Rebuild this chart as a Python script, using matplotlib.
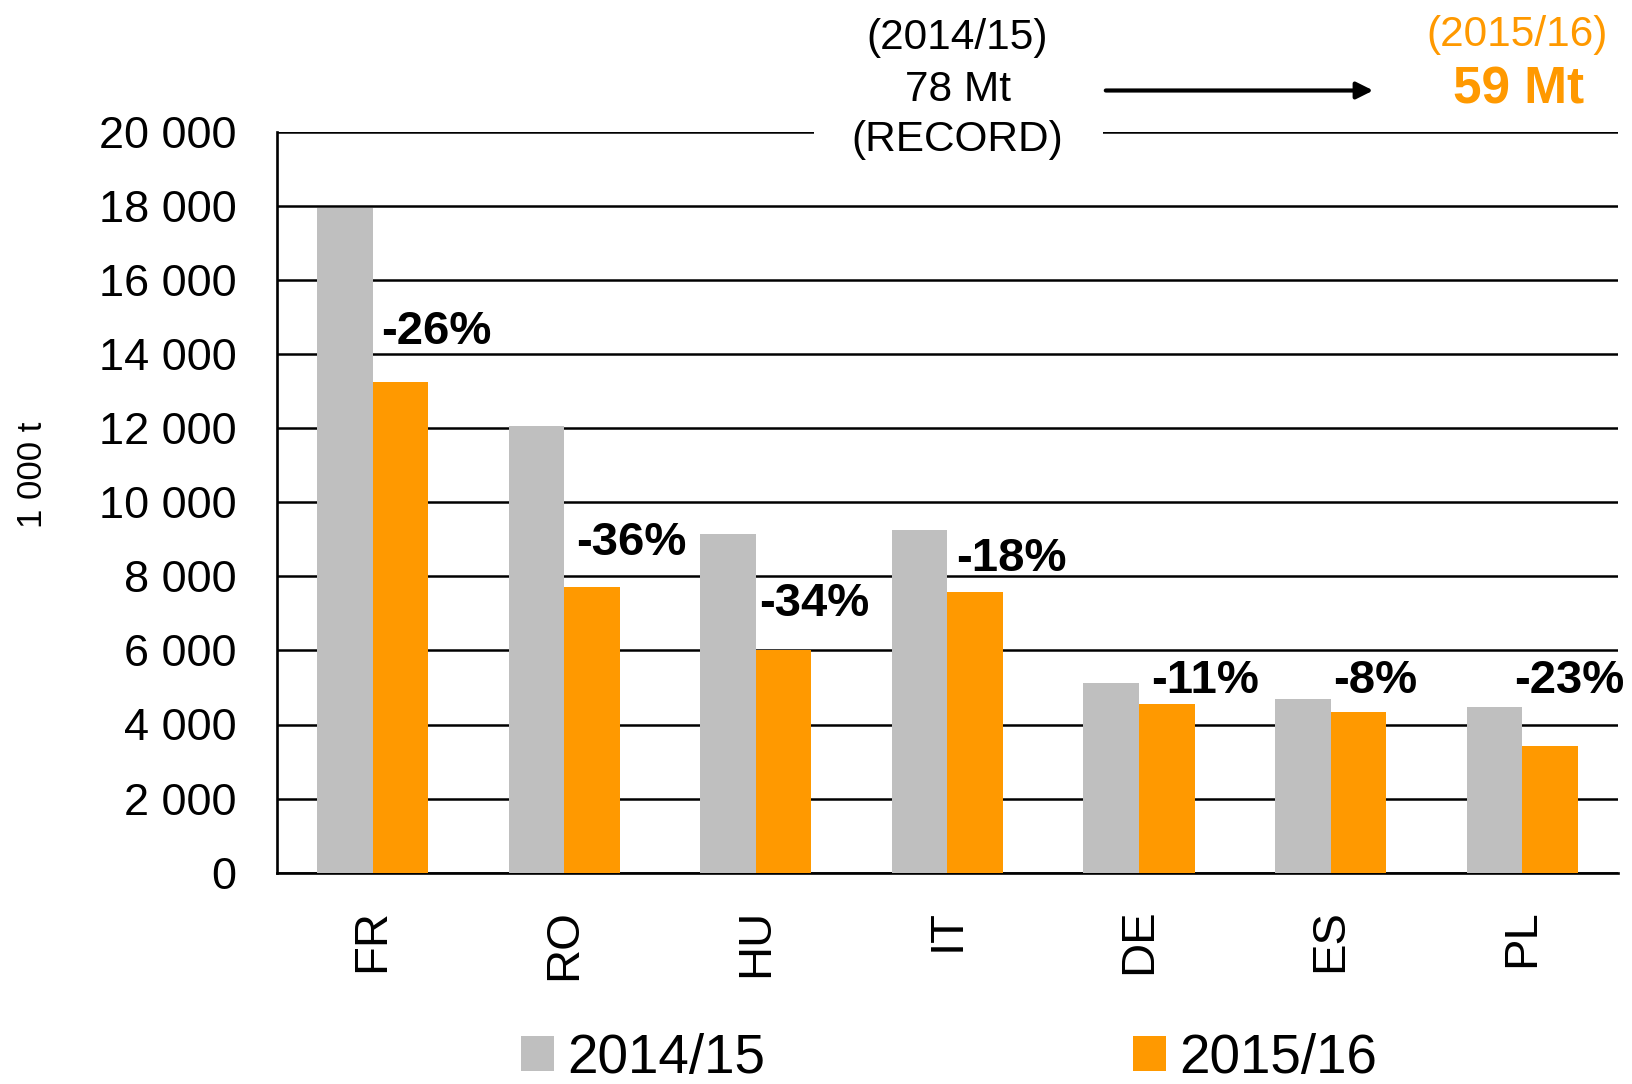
import matplotlib
matplotlib.use("Agg")
import matplotlib.pyplot as plt
from matplotlib.patches import Rectangle, FancyArrowPatch
import numpy as np

plt.rcParams['font.family'] = ['Liberation Sans', 'DejaVu Sans']

countries = ["FR", "RO", "HU", "IT", "DE", "ES", "PL"]
prod_2014_15 = [17950, 12050, 9150, 9250, 5120, 4700, 4470]
prod_2015_16 = [13250, 7700, 6000, 7570, 4560, 4330, 3430]
change_labels = ["-26%", "-36%", "-34%", "-18%", "-11%", "-8%", "-23%"]
series_names = ["2014/15", "2015/16"]
yticks = [0, 2000, 4000, 6000, 8000, 10000, 12000, 14000, 16000, 18000, 20000]
ytick_labels = ["0", "2 000", "4 000", "6 000", "8 000", "10 000", "12 000",
                "14 000", "16 000", "18 000", "20 000"]

# layout for the percentage annotations (x offset from category, y in data units)
label_dx = [0.045, 0.065, 0.02, 0.045, 0.065, 0.015, -0.04]
label_y = [14600, 8900, 7260, 8470, 5180, 5180, 5180]

GRAY = "#BFBFBF"
ORANGE = "#FF9900"

W, H = 1632, 1084
fig = plt.figure(figsize=(W / 100, H / 100), dpi=100)
ax = fig.add_axes([276.7 / W, 1 - 872.7 / H, (1618 - 276.7) / W, (872.7 - 131.7) / H])

x = np.arange(len(countries))
bw = 0.29
b1 = ax.bar(x - bw / 2, prod_2014_15, width=bw, color=GRAY, zorder=3, label=series_names[0])
b2 = ax.bar(x + bw / 2, prod_2015_16, width=bw, color=ORANGE, zorder=3, label=series_names[1])

ax.set_xlim(-0.5, len(countries) - 0.5)
ax.set_ylim(0, 20000)
ax.set_yticks(yticks)
ax.set_yticklabels(ytick_labels, fontsize=32.5)
ax.set_xticks(x)
ax.set_xticklabels(countries, rotation=90, fontsize=34, va="top")
ax.tick_params(axis="y", length=0, pad=29)
ax.tick_params(axis="x", length=0, pad=26)
ax.grid(axis="y", color="black", linewidth=1.8, zorder=0)
ax.set_axisbelow(True)
for s in ["top", "right"]:
    ax.spines[s].set_visible(False)
for s in ["left", "bottom"]:
    ax.spines[s].set_linewidth(1.9)
    ax.spines[s].set_color("black")

fig.text(33 / W, 1 - 475 / H, "1 000 t", fontsize=25, rotation=90, ha="center", va="center")

for i, lab in enumerate(change_labels):
    ax.text(x[i] + label_dx[i], label_y[i], lab, fontsize=34, fontweight="bold",
            ha="left", va="center", zorder=5)

# white gap in the top gridline behind the annotation
fig.patches.append(Rectangle((814 / W, 1 - 150 / H), (1103 - 814) / W, 30 / H,
                             transform=fig.transFigure, facecolor="white",
                             edgecolor="none", zorder=2))

dy = 4
fig.text(957.6 / W, 1 - (34.3 + dy) / H, "(2014/15)", fontsize=30.5, ha="center", va="center", zorder=4)
fig.text(957.6 / W, 1 - (86.4 + dy) / H, "78 Mt", fontsize=30.5, ha="center", va="center", zorder=4)
fig.text(957.6 / W, 1 - (136.3 + dy) / H, "(RECORD)", fontsize=30.5, ha="center", va="center", zorder=4)
fig.text(1517.5 / W, 1 - (31.2 + dy) / H, "(2015/16)", fontsize=30.5, ha="center", va="center",
         color=ORANGE, zorder=4)
fig.text(1518.5 / W, 1 - (86.4 + dy) / H, "59 Mt", fontsize=37, ha="center", va="center",
         color=ORANGE, fontweight="bold", zorder=4)

arrow = FancyArrowPatch((1103 / W, 1 - 90.5 / H), (1376 / W, 1 - 90.5 / H),
                        transform=fig.transFigure, arrowstyle="-|>,head_length=10,head_width=5",
                        mutation_scale=1, linewidth=3, color="black", zorder=4)
fig.patches.append(arrow)

fig.legend(handles=[b1, b2], labels=series_names, loc="center",
           bbox_to_anchor=(949 / W, 1 - 1059 / H), ncol=2, frameon=False,
           fontsize=39.5, handlelength=0.6, handleheight=0.6, handletextpad=0.25,
           columnspacing=6.7, borderpad=0, borderaxespad=0)

fig.savefig("out.png", dpi=100)
